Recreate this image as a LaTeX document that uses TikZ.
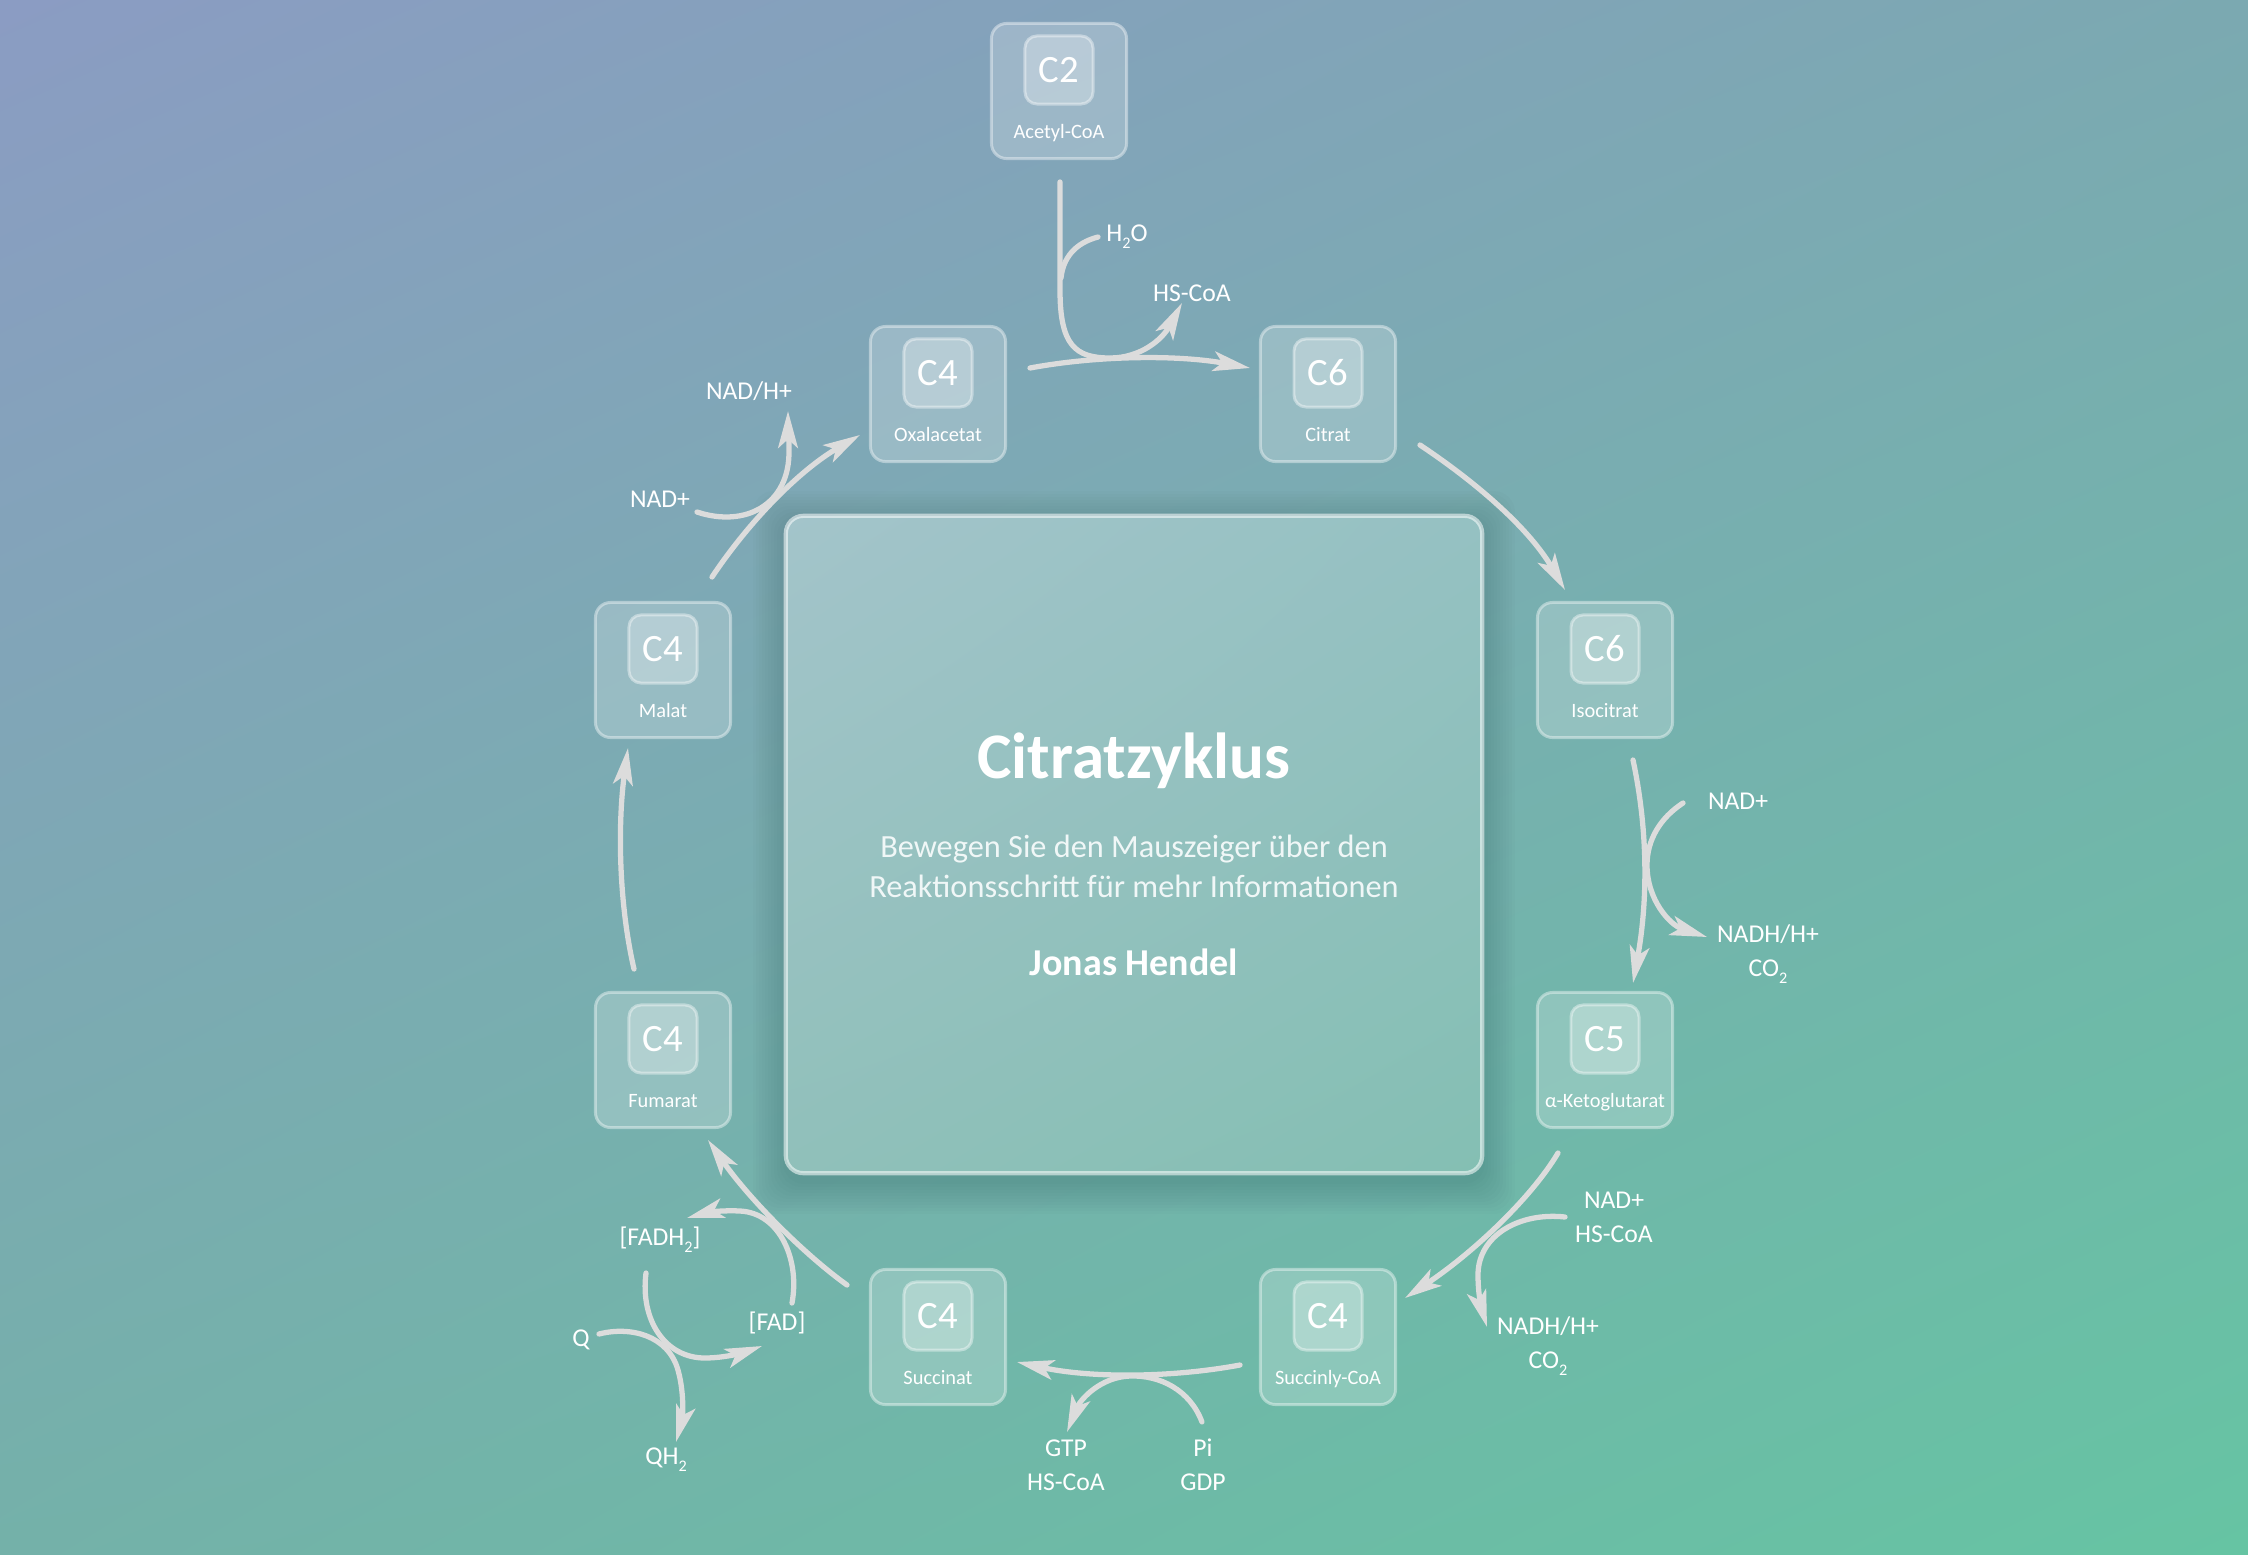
\documentclass[tikz,border=0pt]{standalone}
\usepackage{fontspec}
\setmainfont{Carlito}
\usetikzlibrary{arrows.meta,shadings}
\definecolor{bgTL}{HTML}{8B9CC3}
\definecolor{bgTR}{HTML}{7BA9B1}
\definecolor{bgBL}{HTML}{74B1A9}
\definecolor{bgBR}{HTML}{66C4A3}
\definecolor{boxTL}{HTML}{A3C4CA}
\definecolor{boxTR}{HTML}{95C1C2}
\definecolor{boxBL}{HTML}{90C0BA}
\definecolor{boxBR}{HTML}{84BFB3}
\definecolor{rxgray}{HTML}{DCDCDC}
\newcommand{\lowidx}[1]{\raisebox{-0.55ex}{\fontsize{4.6pt}{5pt}\selectfont #1}}
\tikzset{
  rxline/.style={draw=rxgray, line width=1.5pt, line cap=round},
  rxarrow/.style={rxline, -{Stealth[length=10.5pt,width=5.6pt,inset=2.5pt]}},
  outerbox/.style={draw=white, draw opacity=0.4, fill=white, fill opacity=0.21, line width=0.85pt, rounded corners=4.3pt, minimum width=1.35cm, minimum height=1.35cm, inner sep=0pt},
  innerbox/.style={draw=white, draw opacity=0.4, fill=white, fill opacity=0.28, line width=0.85pt, rounded corners=3.4pt, minimum width=0.68cm, minimum height=0.68cm, inner sep=0pt, text opacity=1, text=white, font=\fontsize{11pt}{12pt}\selectfont},
  mollabel/.style={text=white, inner sep=0pt, anchor=base, font=\fontsize{5.8pt}{7pt}\selectfont},
  sidelabel/.style={text=white, inner sep=0pt, align=center, font=\fontsize{7.3pt}{9.6pt}\selectfont},
}
\newcommand{\molbox}[5]{%
  \node[outerbox] (#1) at (#2,#3) {};
  \node[innerbox] (#1-c) at ([yshift=0.21cm]#1.center) {#4};
  \node[mollabel] (#1-l) at ([yshift=-0.47cm]#1.center) {#5};
}
\begin{document}
\begin{tikzpicture}[x=0.01cm,y=-0.01cm]
\shade[upper left=bgTL, upper right=bgTR, lower left=bgBL, lower right=bgBR] (0,0) rectangle (2248,1554);
\useasboundingbox (0,0) rectangle (2248,1554);

% shadow around the central box (outside only)
\foreach \s in {3,6,...,33}{
  \fill[black, opacity=0.013, even odd rule, rounded corners=6pt] ({786-\s},{516-\s+8}) rectangle ({1482+\s},{1173+\s+8}) (786,516) rectangle (1482,1173);
}
\shade[upper left=boxTL, upper right=boxTR, lower left=boxBL, lower right=boxBR, rounded corners=5pt] (786,516) rectangle (1482,1173);
\node[draw=white, draw opacity=0.55, line width=1.2pt, rounded corners=5pt, minimum width=6.96cm, minimum height=6.57cm] (infobox) at (1134,844.5) {};
\node[text=white, anchor=base, inner sep=0pt, font=\fontsize{18.5pt}{20pt}\bfseries\selectfont] (title) at (1134,778) {Citratzyklus};
\node[text=white!94!teal, anchor=base, inner sep=0pt, font=\fontsize{9.2pt}{11pt}\selectfont] (sub1) at (1134,857) {Bewegen Sie den Mauszeiger über den};
\node[text=white!94!teal, anchor=base, inner sep=0pt, font=\fontsize{9.2pt}{11pt}\selectfont] (sub2) at (1134,897) {Reaktionsschritt für mehr Informationen};
\node[text=white, anchor=base, inner sep=0pt, font=\fontsize{10.8pt}{12pt}\bfseries\selectfont] (author) at (1134,975) {Jonas Hendel};

% molecules
\molbox{acetyl}{1059}{91}{C2}{Acetyl-CoA}
\molbox{oxal}{938}{394}{C4}{Oxalacetat}
\molbox{citrat}{1328}{394}{C6}{Citrat}
\molbox{isocit}{1605}{670}{C6}{Isocitrat}
\molbox{akg}{1605}{1060}{C5}{α-Ketoglutarat}
\molbox{succoa}{1328}{1337}{C4}{Succinly-CoA}
\molbox{succ}{938}{1337}{C4}{Succinat}
\molbox{fum}{663}{1060}{C4}{Fumarat}
\molbox{mal}{663}{670}{C4}{Malat}

% side labels
\node[sidelabel] (h2o) at (1127,237) {H\lowidx{2}O};
\node[sidelabel] (hscoa1) at (1192,293) {HS-CoA};
\node[sidelabel] (nad1) at (1738,801) {NAD+};
\node[sidelabel] (nadh1) at (1768,954) {NADH/H+\\CO\lowidx{2}};
\node[sidelabel] (nad2) at (1614,1217) {NAD+\\HS-CoA};
\node[sidelabel] (nadh2) at (1548,1346) {NADH/H+\\CO\lowidx{2}};
\node[sidelabel] (gtp) at (1066,1465) {GTP\\HS-CoA};
\node[sidelabel] (pi) at (1203,1465) {Pi\\GDP};
\node[sidelabel] (fadh) at (660,1240) {[FADH\lowidx{2}]};
\node[sidelabel] (fad) at (777,1323) {[FAD]};
\node[sidelabel] (q) at (581,1340) {Q};
\node[sidelabel] (qh) at (666,1460) {QH\lowidx{2}};
\node[sidelabel] (nadh3) at (749,391) {NAD/H+};
\node[sidelabel] (nad3) at (660,499) {NAD+};

% end points of connectors
\coordinate (r1s) at (1030,368);  \coordinate (r1e) at (1250,368);
\coordinate (acs) at (1060,182);  \coordinate (hse) at (1182,303);
\coordinate (h2os) at (1098,237);
\coordinate (r2s) at (1420,445);  \coordinate (r2e) at (1565,590);
\coordinate (r3s) at (1633,760);  \coordinate (r3e) at (1633,983);
\coordinate (n1s) at (1683,803);  \coordinate (n1e) at (1707,937);
\coordinate (r4s) at (1558,1153); \coordinate (r4e) at (1405,1298);
\coordinate (n2s) at (1565,1217); \coordinate (n2e) at (1487,1327);
\coordinate (r5s) at (1240,1365); \coordinate (r5e) at (1017,1362);
\coordinate (pis) at (1202,1422); \coordinate (gte) at (1067,1432);
\coordinate (r6s) at (847,1285);  \coordinate (r6e) at (708,1140);
\coordinate (fas) at (792,1303);  \coordinate (fae) at (687,1218);
\coordinate (fhs) at (646,1273);  \coordinate (fhe) at (762,1346);
\coordinate (qs) at (599,1334);   \coordinate (qe) at (676,1442);
\coordinate (r7s) at (634,969);   \coordinate (r7e) at (628,748);
\coordinate (r8s) at (712,577);   \coordinate (r8e) at (860,435);
\coordinate (n3s) at (697,512);   \coordinate (n3e) at (788,411);

% connectors
\draw[rxarrow] (r1s) .. controls (1100,355) and (1180,355) .. (r1e);
\draw[rxarrow] (acs) -- (1060,290) .. controls (1060,345) and (1075,358) .. (1110,358) .. controls (1140,358) and (1162,340) .. (hse);
\draw[rxline] (h2os) .. controls (1075,243) and (1063,258) .. (1061,278);

\draw[rxarrow] (r2s) .. controls (1480,485) and (1530,530) .. (r2e);

\draw[rxarrow] (r3s) .. controls (1648,830) and (1648,900) .. (r3e);
\draw[rxarrow] (n1s) .. controls (1660,818) and (1647,840) .. (1647,865) .. controls (1647,900) and (1670,925) .. (n1e);

\draw[rxarrow] (r4s) .. controls (1530,1200) and (1470,1255) .. (r4e);
\draw[rxarrow] (n2s) .. controls (1520,1212) and (1478,1235) .. (1478,1275) .. controls (1478,1295) and (1482,1310) .. (n2e);

\draw[rxarrow] (r5s) .. controls (1170,1378) and (1090,1378) .. (r5e);
\draw[rxarrow] (pis) .. controls (1190,1390) and (1160,1375) .. (1130,1376) .. controls (1100,1377) and (1080,1400) .. (gte);

\draw[rxarrow] (r6s) .. controls (805,1255) and (750,1200) .. (r6e);
\draw[rxarrow] (fas) .. controls (800,1260) and (780,1213) .. (740,1211) .. controls (720,1210) and (705,1213) .. (fae);
\draw[rxarrow] (fhs) .. controls (640,1320) and (665,1358) .. (705,1358) .. controls (725,1358) and (745,1352) .. (fhe);
\draw[rxarrow] (qs) .. controls (630,1326) and (668,1335) .. (678,1370) .. controls (685,1395) and (682,1420) .. (qe);

\draw[rxarrow] (r7s) .. controls (618,900) and (618,820) .. (r7e);

\draw[rxarrow] (r8s) .. controls (750,520) and (800,470) .. (r8e);
\draw[rxarrow] (n3s) .. controls (745,528) and (790,505) .. (789,450) .. controls (789,435) and (788,425) .. (n3e);
\end{tikzpicture}
\end{document}
